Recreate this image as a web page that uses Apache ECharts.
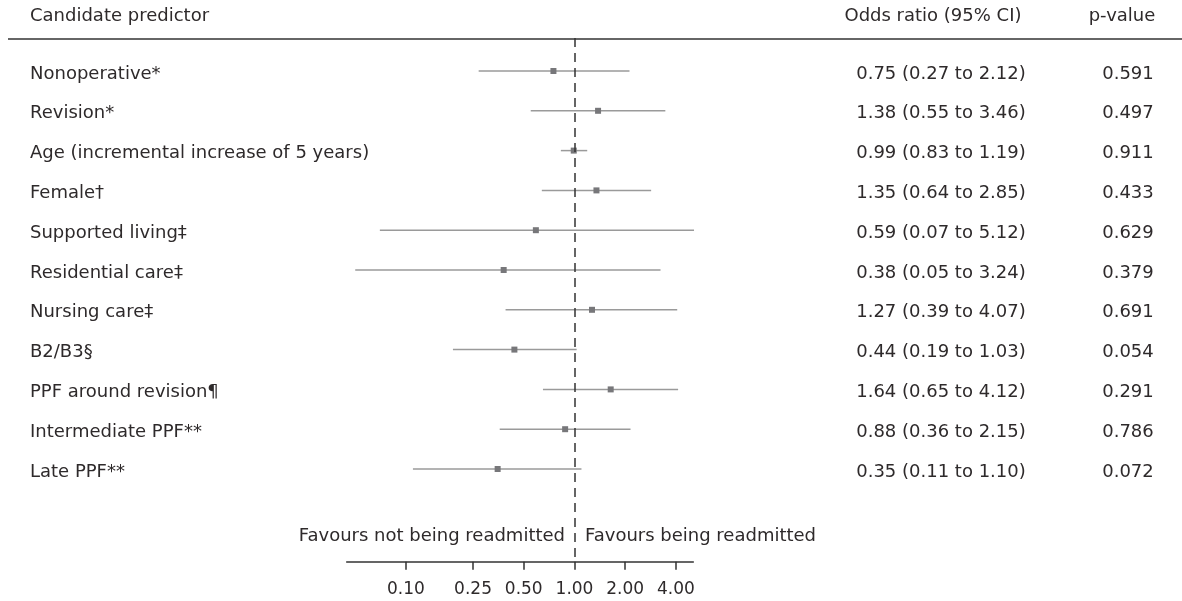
<!DOCTYPE html>
<html>
<head>
<meta charset="utf-8">
<script src="https://cdn.jsdelivr.net/npm/echarts@6/dist/echarts.min.js"></script>
<style>
  html, body { margin: 0; padding: 0; background: #fff; }
  #main { width: 1182px; height: 601px; }
</style>
</head>
<body>
<div id="main"></div>
<script>
var predictors = ['Nonoperative*', 'Revision*', 'Age (incremental increase of 5 years)', 'Female\u2020',
    'Supported living\u2021', 'Residential care\u2021', 'Nursing care\u2021', 'B2/B3\u00a7',
    'PPF around revision\u00b6', 'Intermediate PPF**', 'Late PPF**'];
var oddsRatio = [0.75, 1.38, 0.99, 1.35, 0.59, 0.38, 1.27, 0.44, 1.64, 0.88, 0.35];
var ciLower  = [0.27, 0.55, 0.83, 0.64, 0.07, 0.05, 0.39, 0.19, 0.65, 0.36, 0.11];
var ciUpper  = [2.12, 3.46, 1.19, 2.85, 5.12, 3.24, 4.07, 1.03, 4.12, 2.15, 1.10];
var pValues  = ['0.591', '0.497', '0.911', '0.433', '0.629', '0.379', '0.691', '0.054', '0.291', '0.786', '0.072'];
var tickValues = [0.10, 0.25, 0.50, 1.00, 2.00, 4.00];

var FONT = 'DejaVu Sans';
var FS = 18;
var TXT = '#2e2a2b';
var font = FS + 'px "' + FONT + '"';

var rows = predictors.map(function (name, i) {
    return [i, Math.log(oddsRatio[i]), Math.log(ciLower[i]), Math.log(ciUpper[i])];
});

function fmt(v) { return v.toFixed(2); }

var chart = echarts.init(document.getElementById('main'));
chart.setOption({
    animation: false,
    grid: { left: 346.7, width: 346.6, top: 38, bottom: 39.3 },
    xAxis: {
        type: 'value',
        min: Math.log(0.0445),
        max: Math.log(5.07),
        splitLine: { show: false },
        axisLine: { onZero: false, lineStyle: { color: '#333', width: 1.5 } },
        axisTick: { show: true, length: 8, inside: false, lineStyle: { color: '#333', width: 1.5 },
            customValues: tickValues.map(Math.log) },
        axisLabel: { customValues: tickValues.map(Math.log), margin: 19,
            fontFamily: FONT, fontSize: 17, color: TXT,
            formatter: function (v) { return fmt(Math.exp(v)); } }
    },
    yAxis: {
        type: 'value', inverse: true, show: false,
        min: -0.829, max: 12.329
    },
    series: [{
        type: 'custom',
        data: rows,
        encode: { x: 1, y: 0 },
        renderItem: function (params, api) {
            var i = api.value(0);
            var p = api.coord([api.value(1), i]);
            var lo = api.coord([api.value(2), i]);
            var hi = api.coord([api.value(3), i]);
            var s = 6;
            var ty = p[1] + 3;
            return {
                type: 'group',
                children: [{
                    type: 'line',
                    shape: { x1: lo[0], y1: lo[1], x2: hi[0], y2: hi[1] },
                    style: { stroke: '#9a9a9a', lineWidth: 1.5 }
                }, {
                    type: 'rect',
                    shape: { x: p[0] - s / 2, y: p[1] - s / 2, width: s, height: s },
                    style: { fill: '#77777a' }
                }, {
                    type: 'text',
                    style: { x: 30, y: ty, text: predictors[i], fill: TXT,
                        font: font, align: 'left', verticalAlign: 'middle' }
                }, {
                    type: 'text',
                    style: { x: 941, y: ty,
                        text: fmt(oddsRatio[i]) + ' (' + fmt(ciLower[i]) + ' to ' + fmt(ciUpper[i]) + ')',
                        fill: TXT, font: font, align: 'center', verticalAlign: 'middle' }
                }, {
                    type: 'text',
                    style: { x: 1128, y: ty, text: pValues[i], fill: TXT,
                        font: font, align: 'center', verticalAlign: 'middle' }
                }]
            };
        },
        markLine: {
            silent: true,
            symbol: 'none',
            label: { show: false },
            lineStyle: { color: '#333', width: 1.5, type: [9, 6] },
            data: [{ xAxis: 0 }]
        },
        z: 3
    }],
    graphic: [
        { type: 'line', shape: { x1: 8, y1: 39, x2: 1182, y2: 39 },
          style: { stroke: '#333', lineWidth: 1.5 } },
        { type: 'text', x: 30, y: 16, style: { text: 'Candidate predictor', fill: TXT,
            font: font, align: 'left', verticalAlign: 'middle' } },
        { type: 'text', x: 933, y: 16, style: { text: 'Odds ratio (95% CI)', fill: TXT,
            font: font, align: 'center', verticalAlign: 'middle' } },
        { type: 'text', x: 1122, y: 16, style: { text: 'p-value', fill: TXT,
            font: font, align: 'center', verticalAlign: 'middle' } },
        { type: 'text', x: 565, y: 536, style: { text: 'Favours not being readmitted', fill: TXT,
            font: font, align: 'right', verticalAlign: 'middle' } },
        { type: 'text', x: 585, y: 536, style: { text: 'Favours being readmitted', fill: TXT,
            font: font, align: 'left', verticalAlign: 'middle' } }
    ]
});
</script>
</body>
</html>
